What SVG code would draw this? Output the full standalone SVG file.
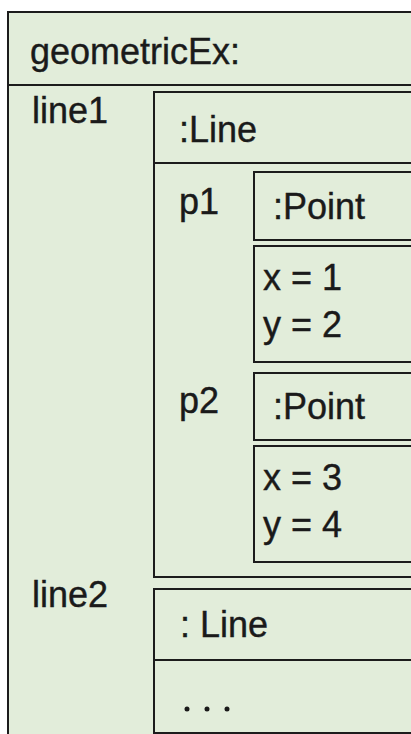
<svg xmlns="http://www.w3.org/2000/svg" width="411" height="734" viewBox="0 0 411 734">
<style>
.box{fill:#e2edda;stroke:#1c1c1c;stroke-width:2}
.ln{stroke:#1c1c1c;stroke-width:2;fill:none}
text{font-family:"Liberation Sans",Arial,sans-serif;font-size:36px;fill:#1a1a1a;stroke:#1a1a1a;stroke-width:0.4}
.dot{fill:#1a1a1a}
</style>
<rect x="0" y="0" width="411" height="734" fill="#ffffff"/>
<g id="geometricEx">
<rect class="box" x="8" y="12" width="430" height="740"/>
<line class="ln" x1="8" y1="85" x2="420" y2="85"/>
<text x="30" y="64">geometricEx:</text>
<text x="32" y="123">line1</text>
<text x="32" y="607">line2</text>
</g>
<g id="line1">
<rect class="box" x="154" y="92" width="280" height="485"/>
<line class="ln" x1="154" y1="163" x2="420" y2="163"/>
<text x="179" y="142">:Line</text>
<text x="179" y="214">p1</text>
<text x="179" y="413">p2</text>
</g>
<g id="p1">
<rect class="box" x="254" y="172" width="180" height="68"/>
<text x="273" y="219">:Point</text>
<rect class="box" x="254" y="246" width="180" height="116"/>
<text x="263" y="290">x = 1</text>
<text x="263" y="337">y = 2</text>
</g>
<g id="p2">
<rect class="box" x="254" y="373" width="180" height="67"/>
<text x="273" y="419">:Point</text>
<rect class="box" x="254" y="446" width="180" height="116"/>
<text x="263" y="490">x = 3</text>
<text x="263" y="537">y = 4</text>
</g>
<g id="line2">
<rect class="box" x="154" y="589" width="280" height="144"/>
<line class="ln" x1="154" y1="660" x2="420" y2="660"/>
<text x="180" y="637">: Line</text>
<circle class="dot" cx="187" cy="709" r="2.5"/>
<circle class="dot" cx="207" cy="709" r="2.5"/>
<circle class="dot" cx="227" cy="709" r="2.5"/>
</g>
</svg>
